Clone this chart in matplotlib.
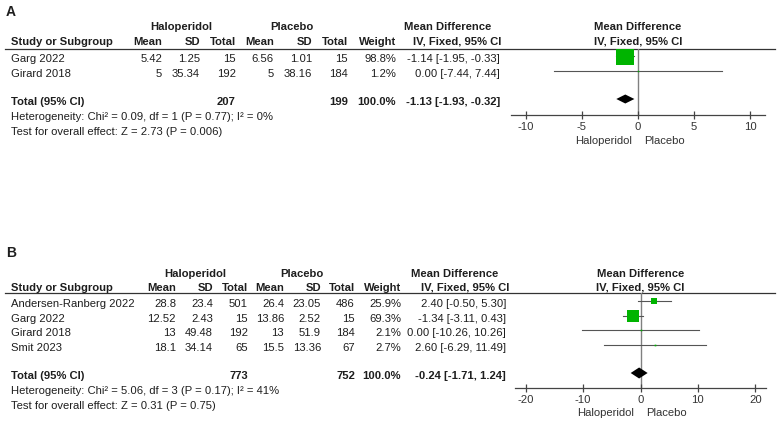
import matplotlib
matplotlib.use("Agg")
import matplotlib.pyplot as plt

plt.rcParams['font.family'] = ['Liberation Sans', 'DejaVu Sans']

# ---------------- Data: panel A ----------------
a_studies = ["Garg 2022", "Girard 2018"]
a_halo_mean = [5.42, 5]
a_halo_sd = [1.25, 35.34]
a_halo_n = [15, 192]
a_plac_mean = [6.56, 5]
a_plac_sd = [1.01, 38.16]
a_plac_n = [15, 184]
a_weight = [98.8, 1.2]
a_md = [-1.14, 0.00]
a_lo = [-1.95, -7.44]
a_hi = [-0.33, 7.44]
a_total = [-1.13, -1.93, -0.32]
a_het = "Heterogeneity: Chi² = 0.09, df = 1 (P = 0.77); I² = 0%"
a_test = "Test for overall effect: Z = 2.73 (P = 0.006)"
a_ticks = [-10, -5, 0, 5, 10]

# ---------------- Data: panel B ----------------
b_studies = ["Andersen-Ranberg 2022", "Garg 2022", "Girard 2018", "Smit 2023"]
b_halo_mean = [28.8, 12.52, 13, 18.1]
b_halo_sd = [23.4, 2.43, 49.48, 34.14]
b_halo_n = [501, 15, 192, 65]
b_plac_mean = [26.4, 13.86, 13, 15.5]
b_plac_sd = [23.05, 2.52, 51.9, 13.36]
b_plac_n = [486, 15, 184, 67]
b_weight = [25.9, 69.3, 2.1, 2.7]
b_md = [2.40, -1.34, 0.00, 2.60]
b_lo = [-0.50, -3.11, -10.26, -6.29]
b_hi = [5.30, 0.43, 10.26, 11.49]
b_total = [-0.24, -1.71, 1.24]
b_het = "Heterogeneity: Chi² = 5.06, df = 3 (P = 0.17); I² = 41%"
b_test = "Test for overall effect: Z = 0.31 (P = 0.75)"
b_ticks = [-20, -10, 0, 10, 20]

W, H = 778, 422
fig = plt.figure(figsize=(W / 100, H / 100), dpi=100)
bg = fig.add_axes([0, 0, 1, 1])
bg.set_xlim(0, W)
bg.set_ylim(H, 0)
bg.axis('off')

TXT = '#1e1e1e'
FS = 8.1
GREEN = '#00b400'


def fmt(v):
    return f"{v:g}"


def panel(label, studies, hm, hs, hn, pm, ps, pn, wt, md, lo, hi, total, het, test, ticks,
          lay):
    y0 = lay['top']
    bg.text(6, y0, label, fontsize=10, fontweight='bold', color=TXT, va='center', ha='left')
    gh = y0 + lay['gh']
    bg.text(lay['halo_c'], gh, "Haloperidol", fontsize=FS, fontweight='bold', color=TXT,
            ha='center', va='center')
    bg.text(lay['plac_c'], gh, "Placebo", fontsize=FS, fontweight='bold', color=TXT,
            ha='center', va='center')
    bg.text(lay['md_l'], gh, "Mean Difference", fontsize=FS, fontweight='bold', color=TXT,
            ha='left', va='center')
    fc = (lay['f_l'] + lay['f_r']) / 2
    bg.text(fc, gh, "Mean Difference", fontsize=FS, fontweight='bold', color=TXT,
            ha='center', va='center')
    ch = y0 + lay['ch']
    bg.text(11, ch, "Study or Subgroup", fontsize=FS, fontweight='bold', color=TXT,
            ha='left', va='center')
    heads = ["Mean", "SD", "Total", "Mean", "SD", "Total", "Weight"]
    for hname, xr in zip(heads, lay['cols']):
        bg.text(xr, ch, hname, fontsize=FS, fontweight='bold', color=TXT, ha='right', va='center')
    bg.text(lay['iv_l'], ch, "IV, Fixed, 95% CI", fontsize=FS, fontweight='bold', color=TXT,
            ha='left', va='center')
    bg.text(fc, ch, "IV, Fixed, 95% CI", fontsize=FS, fontweight='bold', color=TXT,
            ha='center', va='center')
    line_y = y0 + lay['line']
    bg.plot([5, 775], [line_y, line_y], color='#333333', lw=0.9)

    row_ys = [y0 + lay['row0'] + i * lay['dy'] for i in range(len(studies))]
    for i, ry in enumerate(row_ys):
        vals = [fmt(hm[i]), fmt(hs[i]), str(hn[i]), fmt(pm[i]), fmt(ps[i]), str(pn[i]),
                f"{wt[i]:.1f}%"]
        bg.text(11, ry, studies[i], fontsize=FS, color=TXT, ha='left', va='center')
        for v, xr in zip(vals, lay['cols']):
            bg.text(xr, ry, v, fontsize=FS, color=TXT, ha='right', va='center')
        bg.text(lay['ci_r'], ry, f"{md[i]:.2f} [{lo[i]:.2f}, {hi[i]:.2f}]", fontsize=FS,
                color=TXT, ha='right', va='center')
    ty = y0 + lay['tot']
    bg.text(11, ty, "Total (95% CI)", fontsize=FS, fontweight='bold', color=TXT, ha='left', va='center')
    bg.text(lay['cols'][2], ty, str(sum(hn)), fontsize=FS, fontweight='bold', color=TXT,
            ha='right', va='center')
    bg.text(lay['cols'][5], ty, str(sum(pn)), fontsize=FS, fontweight='bold', color=TXT,
            ha='right', va='center')
    bg.text(lay['cols'][6], ty, f"{sum(wt):.1f}%", fontsize=FS, fontweight='bold', color=TXT,
            ha='right', va='center')
    bg.text(lay['ci_r'], ty, f"{total[0]:.2f} [{total[1]:.2f}, {total[2]:.2f}]", fontsize=FS,
            fontweight='bold', color=TXT, ha='right', va='center')
    bg.text(11, y0 + lay['het'], het, fontsize=FS, color=TXT, ha='left', va='center')
    bg.text(11, y0 + lay['test'], test, fontsize=FS, color=TXT, ha='left', va='center')

    # forest axes
    ax_bot = y0 + lay['axis']
    ax = fig.add_axes([lay['f_l'] / W, 1 - ax_bot / H, (lay['f_r'] - lay['f_l']) / W,
                       (ax_bot - line_y) / H])
    ax.set_xlim(-lay['xmax'], lay['xmax'])
    ax.set_ylim(ax_bot, line_y)
    ax.patch.set_alpha(0)
    for s in ['top', 'right', 'left']:
        ax.spines[s].set_visible(False)
    ax.spines['bottom'].set_color('#444444')
    ax.spines['bottom'].set_linewidth(0.9)
    ax.set_yticks([])
    ax.set_xticks(ticks)
    ax.set_xticklabels([str(t) for t in ticks])
    ax.tick_params(axis='x', direction='inout', length=6, width=0.9, color='#444444',
                   labelsize=FS, labelcolor='#333333', pad=2)
    ax.axvline(0, color='#808080', lw=1.0, zorder=1)
    off = lay['moff']
    for i, ry in enumerate(row_ys):
        my = ry + off
        ax.plot([lo[i], hi[i]], [my, my], color='#555555', lw=0.8, zorder=2)
        side_px = lay['k'] * wt[i] + 1.2
        ax.plot([md[i]], [my], marker='s', ms=side_px * 0.72, color=GREEN, mec=GREEN,
                mew=0, zorder=3)
    dy_ = ty + off
    h = lay['dh']
    ax.fill([total[1], total[0], total[2], total[0]], [dy_, dy_ - h, dy_, dy_ + h],
            color='black', zorder=4, lw=0)
    ny = y0 + lay['names']
    zx = lay['f_l'] + (0 + lay['xmax']) / (2 * lay['xmax']) * (lay['f_r'] - lay['f_l'])
    bg.text(zx - 6, ny, "Haloperidol", fontsize=FS, color='#333333', ha='right', va='center')
    bg.text(zx + 6, ny, "Placebo", fontsize=FS, color='#333333', ha='left', va='center')


lay_a = dict(top=12, gh=15, ch=30, line=36.5, row0=47, dy=15, tot=90, het=105, test=120,
             halo_c=181, plac_c=292, md_l=404, iv_l=413,
             cols=[162, 200, 236, 274, 312, 348, 396], ci_r=500,
             f_l=511, f_r=765, xmax=11.3, axis=103, names=129, moff=-3, k=0.17, dh=4.5)
lay_b = dict(top=253, gh=21, ch=35, line=39.5, row0=51, dy=14.6, tot=123, het=138, test=153,
             halo_c=195, plac_c=302, md_l=411, iv_l=421,
             cols=[176, 213, 248, 284, 321, 355, 401], ci_r=506,
             f_l=515, f_r=766, xmax=21.85, axis=135, names=160, moff=-3, k=0.17, dh=5.5)

panel("A", a_studies, a_halo_mean, a_halo_sd, a_halo_n, a_plac_mean, a_plac_sd, a_plac_n,
      a_weight, a_md, a_lo, a_hi, a_total, a_het, a_test, a_ticks, lay_a)
panel("B", b_studies, b_halo_mean, b_halo_sd, b_halo_n, b_plac_mean, b_plac_sd, b_plac_n,
      b_weight, b_md, b_lo, b_hi, b_total, b_het, b_test, b_ticks, lay_b)

fig.savefig("out.png", dpi=100)
